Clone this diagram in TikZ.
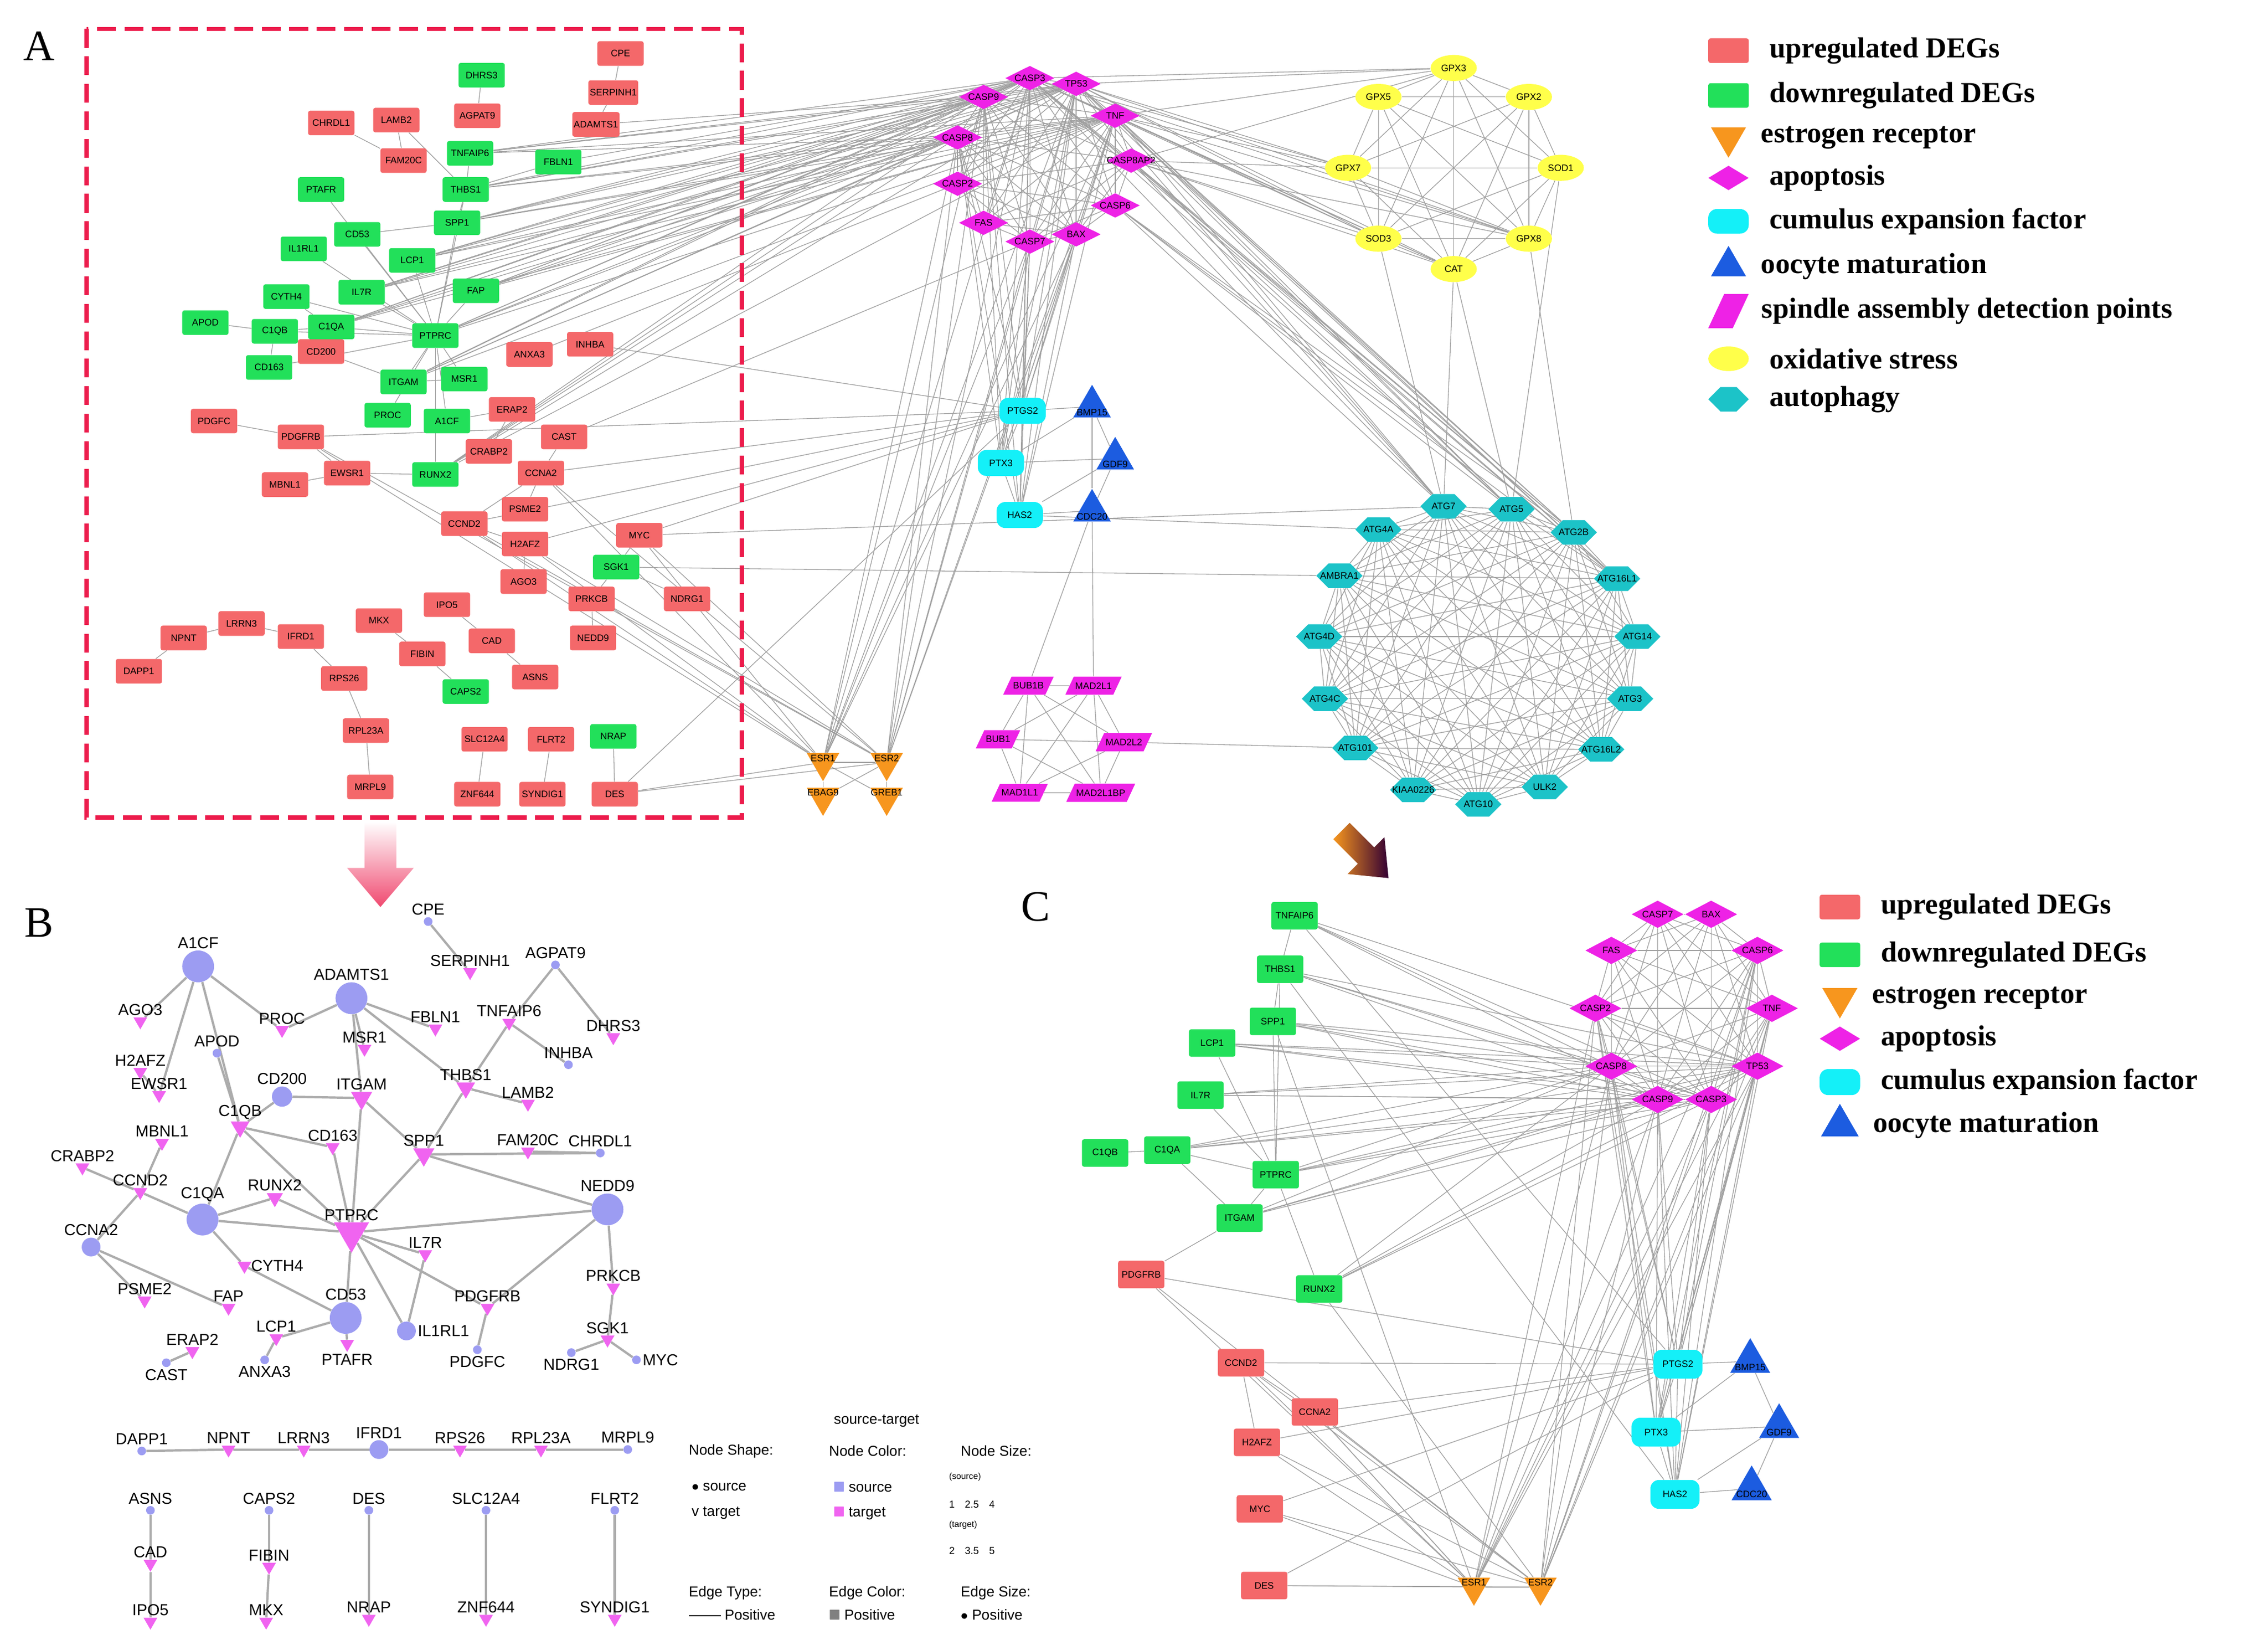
\documentclass[tikz,border=0pt]{standalone}
\usepackage{amssymb}
\usepackage{fontspec}
\setmainfont{Liberation Serif}
\setsansfont{Liberation Sans}
\usetikzlibrary{shapes.geometric, shapes.symbols, backgrounds}

\definecolor{upred}{HTML}{F4686A}
\definecolor{downgreen}{HTML}{22E05A}
\definecolor{apopmag}{HTML}{EE22E6}
\definecolor{cumcyan}{HTML}{14F0F8}
\definecolor{oocblue}{HTML}{1C5CE0}
\definecolor{esrorange}{HTML}{F7961E}
\definecolor{oxyellow}{HTML}{FFFF4A}
\definecolor{autoteal}{HTML}{1CC3C8}
\definecolor{dashred}{HTML}{EC1C4C}
\definecolor{srcblue}{HTML}{9C9CF2}
\definecolor{tgtpink}{HTML}{F064F0}

\tikzset{
  atext/.style={font=\sffamily\fontsize{6.5}{7}\selectfont, inner sep=0pt},
  box/.style={rectangle, rounded corners=1.5pt, minimum width=32pt, minimum height=17pt,
    inner sep=1pt, font=\sffamily\fontsize{6.5}{7}\selectfont},
  up/.style={box, fill=upred},
  down/.style={box, fill=downgreen},
  apop/.style={diamond, fill=apopmag, aspect=2, inner sep=0pt, minimum width=34pt, minimum height=17pt},
  cum/.style={rectangle, rounded corners=6pt, fill=cumcyan, inner sep=0pt, minimum width=32pt, minimum height=18pt},
  ooc/.style={regular polygon, regular polygon sides=3, fill=oocblue, inner sep=0pt, minimum size=30pt},
  esr/.style={regular polygon, regular polygon sides=3, shape border rotate=180, fill=esrorange, inner sep=0pt, minimum size=26pt},
  spin/.style={trapezium, trapezium left angle=65, trapezium right angle=115, fill=apopmag,
    inner xsep=1pt, inner ysep=4pt, font=\sffamily\fontsize{6.5}{7}\selectfont},
  oxid/.style={ellipse, fill=oxyellow, inner sep=0pt, minimum width=32pt, minimum height=18pt},
  auto/.style={signal, signal to=east and west, fill=autoteal, inner sep=0pt, minimum width=32pt, minimum height=17pt},
  aedge/.style={draw=gray!75, line width=0.5pt},
  legtext/.style={font=\bfseries\fontsize{20}{22}\selectfont, inner sep=0pt, xshift=14pt},
  src/.style={circle, fill=srcblue, inner sep=0pt, minimum size=#1},
  tgt/.style={regular polygon, regular polygon sides=3, shape border rotate=180, fill=tgtpink, inner sep=0pt, minimum size=#1},
  blab/.style={font=\sffamily\fontsize{11}{12}\selectfont, inner sep=1pt},
  bedge/.style={draw=gray!65, line width=1.6pt},
  bsmall/.style={font=\sffamily\fontsize{10}{11}\selectfont, inner sep=0pt, anchor=west},
  panel/.style={font=\fontsize{30}{32}\selectfont, inner sep=0pt}
}

\begin{document}
\begin{tikzpicture}[x=1pt, y=-1pt]
\useasboundingbox (0,0) rectangle (1568,1137);

% panel letters
\node[panel] (letA) at (27,32) {A};
\node[panel] (letB) at (27,638) {B};
\node[panel] (letC) at (716,627) {C};

% ---------- panel A ----------
\draw[dashred, line width=3pt, dash pattern=on 13pt off 6pt] (60,20) rectangle (513,565);
\foreach \n/\x/\y in {CPE/429/37, SERPINH1/424/64, ADAMTS1/412/86, CHRDL1/229/85, LAMB2/274/83,
    FAM20C/279/111, AGPAT9/330/80, ANXA3/366/245, INHBA/408/238, CD200/222/243, PDGFC/148/291,
    PDGFRB/208/302, MBNL1/197/335, EWSR1/240/327, ERAP2/354/283, CRABP2/338/312, CAST/390/302,
    CCNA2/374/327, CCND2/321/362, PSME2/363/352, H2AFZ/363/376, MYC/442/370, AGO3/362/402,
    PRKCB/409/414, NDRG1/475/414, NEDD9/410/441, IPO5/309/418, MKX/262/429, CAD/340/443,
    FIBIN/292/452, ASNS/370/468, NPNT/127/441, LRRN3/167/431, IFRD1/208/440, DAPP1/96/464,
    RPS26/238/469, RPL23A/253/505, MRPL9/256/544, SLC12A4/335/511, FLRT2/381/511,
    ZNF644/330/549, SYNDIG1/375/549, DES/425/549}
  \node[up] (\n) at (\x,\y) {\n};
\foreach \n/\x/\y in {DHRS3/333/52, TNFAIP6/325/106, FBLN1/386/112, THBS1/322/131, PTAFR/222/131,
    CD53/247/162, SPP1/316/154, IL1RL1/210/172, LCP1/285/180, IL7R/250/202, FAP/329/201,
    CYTH4/198/205, APOD/142/223, C1QB/190/229, C1QA/229/226, PTPRC/301/232, CD163/186/254,
    ITGAM/279/264, MSR1/321/262, PROC/268/287, A1CF/309/291, RUNX2/301/328, SGK1/426/392,
    CAPS2/322/478, NRAP/424/509}
  \node[down] (\n) at (\x,\y) {\n};
\foreach \n/\x/\y in {CASP3/712/54, TP53/744/58, CASP9/680/67, TNF/771/80, CASP8/662/95,
    CASP8AP2/782/111, CASP2/662/127, CASP6/771/142, FAS/680/154, CASP7/712/167, BAX/744/162}
  \node[apop, label={[atext]center:\n}] (\n) at (\x,\y) {};
\foreach \n/\x/\y in {PTGS2/707/284, PTX3/692/320, HAS2/705/356}
  \node[cum, label={[atext]center:\n}] (\n) at (\x,\y) {};
\foreach \n/\x/\y in {BMP15/755/281, GDF9/771/317, CDC20/755/353}
  \node[ooc, label={[atext, yshift=-4pt]center:\n}] (\n) at (\x,\y) {};
\foreach \n/\x/\y in {BUB1B/711/474, MAD2L1/756/474, BUB1/690/511, MAD2L2/777/513,
    MAD1L1/705/548, MAD2L1BP/761/548}
  \node[spin] (\n) at (\x,\y) {\n};
\foreach \n/\x/\y in {ESR1/569/527, ESR2/613/527, EBAG9/569/551, GREB1/613/551}
  \node[esr, label={[atext, yshift=3pt]center:\n}] (\n) at (\x,\y) {};
\foreach \n/\x/\y in {GPX3/1005/47, GPX5/953/67, GPX2/1057/67, GPX7/932/116, SOD1/1079/116,
    SOD3/953/165, GPX8/1057/165, CAT/1005/186}
  \node[oxid, label={[atext]center:\n}] (\n) at (\x,\y) {};
\foreach \n/\x/\y in {ATG7/998/350, ATG5/1045/352, ATG4A/953/366, ATG2B/1088/368, AMBRA1/926/398,
    ATG16L1/1118/400, ATG4D/912/440, ATG14/1132/440, ATG4C/916/483, ATG3/1127/483,
    ATG101/937/517, ATG16L2/1107/518, KIAA0226/977/546, ULK2/1068/544, ATG10/1022/556}
  \node[auto, label={[atext]center:\n}] (\n) at (\x,\y) {};

\begin{pgfonlayer}{background}
% inside the dashed box
\foreach \a/\b in {PTPRC/C1QA, PTPRC/C1QB, PTPRC/CD53, PTPRC/LCP1, PTPRC/IL7R, PTPRC/FAP,
    PTPRC/ITGAM, PTPRC/SPP1, PTPRC/CYTH4, PTPRC/MSR1, PTPRC/PROC, PTPRC/A1CF, PTPRC/RUNX2,
    PTPRC/CD163, PTPRC/IL1RL1, PTPRC/PTAFR, PTPRC/THBS1, C1QB/APOD, C1QB/C1QA, C1QB/CD163,
    C1QA/CYTH4, CD200/ITGAM, PDGFC/PDGFRB, PDGFRB/EWSR1, EWSR1/MBNL1, EWSR1/RUNX2, CCNA2/CCND2,
    CCNA2/PSME2, CCNA2/CAST, CCND2/H2AFZ, H2AFZ/AGO3, MYC/SGK1, SGK1/PRKCB, SGK1/NDRG1,
    PRKCB/NEDD9, CRABP2/ERAP2, ERAP2/A1CF, THBS1/TNFAIP6, THBS1/SPP1, THBS1/FBLN1, FAM20C/LAMB2,
    LAMB2/THBS1, CHRDL1/FAM20C, DHRS3/AGPAT9, CPE/SERPINH1, SERPINH1/ADAMTS1, NPNT/LRRN3,
    NPNT/DAPP1, LRRN3/IFRD1, IFRD1/RPS26, RPS26/RPL23A, RPL23A/MRPL9, MKX/FIBIN, FIBIN/CAPS2,
    IPO5/CAD, CAD/ASNS, SLC12A4/ZNF644, FLRT2/SYNDIG1, NRAP/DES, ITGAM/MSR1, SPP1/CD53}
  \draw[aedge] (\a) -- (\b);
% long links
\foreach \a in {THBS1, SPP1, PTPRC, ITGAM, FAP, LCP1, IL7R, C1QA, TNFAIP6, RUNX2}
  \foreach \b in {CASP3, TNF, TP53, CASP8, CASP9}
    \draw[aedge] (\a) -- (\b);
\foreach \a in {PDGFRB, CCND2, CCNA2, H2AFZ, MYC, DES}
  \foreach \b in {ESR1, ESR2, PTGS2}
    \draw[aedge] (\a) -- (\b);
\foreach \a/\b in {SGK1/AMBRA1, MYC/ATG7, INHBA/PTGS2, ANXA3/CASP2, HAS2/ATG4A, CAST/CASP7,
    FBLN1/CASP3, ADAMTS1/CASP9, CAT/ATG7, CAT/ATG5, GPX8/ATG2B, SOD1/ATG5, SOD3/ATG7,
    ESR1/EBAG9, ESR2/GREB1, ESR1/GREB1, ESR2/EBAG9, ESR1/ESR2, CDC20/BUB1B, CDC20/MAD2L1,
    MAD2L2/ATG101, PTGS2/BMP15, PTX3/GDF9, HAS2/CDC20, PTGS2/PTX3, PTX3/HAS2, BMP15/GDF9,
    GDF9/CDC20, PTGS2/HAS2, BMP15/CDC20, PTX3/BMP15, HAS2/GDF9}
  \draw[aedge] (\a) -- (\b);
\foreach \a in {CASP3, TP53, TNF, CASP8, CASP9, BAX, CASP7}
  \foreach \b in {ESR1, ESR2, PTGS2, HAS2, PTX3}
    \draw[aedge] (\a) -- (\b);
\foreach \a in {TNF, TP53, CASP3, CASP8AP2}
  \foreach \b in {GPX3, GPX7, SOD3, CAT, GPX8}
    \draw[aedge] (\a) -- (\b);
\foreach \a in {TNF, TP53, CASP3, CASP8AP2, CASP6}
  \foreach \b in {ATG7, ATG5, ATG2B, ATG16L1}
    \draw[aedge] (\a) -- (\b);
% cliques
\foreach \a [count=\i] in {CASP3, TP53, CASP9, TNF, CASP8, CASP8AP2, CASP2, CASP6, FAS, CASP7, BAX}
  \foreach \b [count=\j] in {CASP3, TP53, CASP9, TNF, CASP8, CASP8AP2, CASP2, CASP6, FAS, CASP7, BAX}
    {\ifnum\j>\i \draw[aedge] (\a) -- (\b); \fi}
\foreach \a [count=\i] in {GPX3, GPX5, GPX2, GPX7, SOD1, SOD3, GPX8, CAT}
  \foreach \b [count=\j] in {GPX3, GPX5, GPX2, GPX7, SOD1, SOD3, GPX8, CAT}
    {\ifnum\j>\i \draw[aedge] (\a) -- (\b); \fi}
\foreach \a [count=\i] in {ATG7, ATG5, ATG4A, ATG2B, AMBRA1, ATG16L1, ATG4D, ATG14, ATG4C, ATG3, ATG101, ATG16L2, KIAA0226, ULK2, ATG10}
  \foreach \b [count=\j] in {ATG7, ATG5, ATG4A, ATG2B, AMBRA1, ATG16L1, ATG4D, ATG14, ATG4C, ATG3, ATG101, ATG16L2, KIAA0226, ULK2, ATG10}
    {\ifnum\j>\i \draw[aedge] (\a) -- (\b); \fi}
\foreach \a [count=\i] in {BUB1B, MAD2L1, BUB1, MAD2L2, MAD1L1, MAD2L1BP}
  \foreach \b [count=\j] in {BUB1B, MAD2L1, BUB1, MAD2L2, MAD1L1, MAD2L1BP}
    {\ifnum\j>\i \draw[aedge] (\a) -- (\b); \fi}
\end{pgfonlayer}

% legend A
\foreach \s/\t/\y [count=\k] in {up/upregulated  DEGs/35, down/downregulated DEGs/66,
    esr/estrogen receptor/95, apop/apoptosis/123, cum/cumulus expansion factor/153,
    ooc/oocyte maturation/184, spin/spindle assembly detection points/215,
    oxid/oxidative stress/248, auto/autophagy/276}
  \node[\s, minimum width=28pt, minimum height=17pt, label={[legtext]east:\t}] (legA\k) at (1195,\y) {};

% arrows between panels
\shade[top color=white, bottom color=dashred!80] (252,568) -- (274,568) -- (274,600) -- (286,600)
  -- (263,627) -- (240,600) -- (252,600) -- cycle;
\begin{scope}[shift={(943,590)}, rotate=-45]
  \shade[left color=esrorange, right color=black!60!violet] (-22,-8) -- (2,-8) -- (2,-18) -- (24,0)
    -- (2,18) -- (2,8) -- (-22,8) -- cycle;
\end{scope}

% ---------- panel B ----------
\foreach \n/\x/\y/\s/\p in {A1CF/137/668/22pt/above, ADAMTS1/243/690/22pt/above, CPE/296/637/6pt/above,
    AGPAT9/384/667/6pt/above, INHBA/393/736/6pt/above, APOD/150/728/6pt/above, CD200/195/758/14pt/above,
    CHRDL1/415/797/6pt/above, C1QA/140/843/22pt/above, NEDD9/420/836/22pt/above, CCNA2/63/862/13pt/above,
    CD53/239/911/22pt/above, IL1RL1/281/920/13pt/right, PDGFC/330/933/6pt/below, CAST/115/942/6pt/below,
    ANXA3/183/940/6pt/below, MYC/440/940/6pt/right, NDRG1/395/935/6pt/below,
    DAPP1/98/1003/6pt/above, IFRD1/262/1002/13pt/above, MRPL9/434/1002/6pt/above,
    ASNS/104/1044/6pt/above, CAPS2/186/1044/6pt/above, DES/255/1044/6pt/above,
    SLC12A4/336/1044/6pt/above, FLRT2/425/1044/6pt/above}
  \node[src=\s, label={[blab]\p:\n}] (b\n) at (\x,\y) {};
\foreach \n/\x/\y/\s/\p in {SERPINH1/325/672/11pt/above, TNFAIP6/352/707/11pt/above, DHRS3/424/717/11pt/above,
    FBLN1/301/711/11pt/above, PROC/195/712/11pt/above, MSR1/252/725/11pt/above, AGO3/97/706/11pt/above,
    H2AFZ/97/741/11pt/above, EWSR1/110/757/11pt/above, C1QB/166/779/15pt/above, ITGAM/250/759/17pt/above,
    THBS1/322/752/15pt/above, LAMB2/365/763/11pt/above, MBNL1/112/790/11pt/above, CD163/230/793/11pt/above,
    SPP1/293/798/17pt/above, FAM20C/365/796/11pt/above, CRABP2/57/807/11pt/above, CCND2/97/824/11pt/above,
    RUNX2/190/828/13pt/above, PTPRC/243/852/28pt/above, IL7R/294/867/11pt/above, CYTH4/169/875/11pt/right,
    PSME2/100/899/11pt/above, PRKCB/424/890/11pt/above, FAP/158/904/11pt/above, PDGFRB/337/904/11pt/above,
    LCP1/191/925/11pt/above, SGK1/420/926/11pt/above, ERAP2/133/934/11pt/above, PTAFR/240/929/11pt/below,
    NPNT/158/1002/11pt/above, LRRN3/210/1002/11pt/above, RPS26/318/1002/11pt/above, RPL23A/374/1002/11pt/above,
    CAD/104/1081/11pt/above, IPO5/104/1121/11pt/above, FIBIN/186/1083/11pt/above, MKX/184/1121/11pt/above,
    NRAP/255/1119/11pt/above, ZNF644/336/1119/11pt/above, SYNDIG1/425/1119/11pt/above}
  \node[tgt=\s, label={[blab]\p:\n}] (b\n) at (\x,\y) {};

\begin{pgfonlayer}{background}
\foreach \a/\b in {A1CF/AGO3, A1CF/PROC, A1CF/EWSR1, A1CF/C1QB, ADAMTS1/MSR1, ADAMTS1/ITGAM,
    ADAMTS1/FBLN1, ADAMTS1/THBS1, ADAMTS1/PROC, CPE/SERPINH1, AGPAT9/TNFAIP6, AGPAT9/DHRS3,
    INHBA/TNFAIP6, TNFAIP6/THBS1, APOD/C1QB, CD200/C1QB, CD200/ITGAM, C1QB/PTPRC, ITGAM/PTPRC,
    THBS1/SPP1, LAMB2/THBS1, CHRDL1/SPP1, CHRDL1/FAM20C, ITGAM/SPP1, CD163/PTPRC, C1QA/C1QB,
    C1QA/RUNX2, C1QA/CYTH4, C1QA/PTPRC, C1QA/CCND2, CCNA2/CCND2, CCNA2/PSME2, CCND2/CRABP2,
    CCND2/MBNL1, NEDD9/SPP1, NEDD9/PTPRC, NEDD9/PRKCB, NEDD9/PDGFRB, PDGFRB/PTPRC, PDGFC/PDGFRB,
    IL1RL1/IL7R, IL1RL1/PTPRC, CD53/PTPRC, CD53/LCP1, CD53/PTAFR, CD53/CYTH4, ANXA3/LCP1,
    CAST/ERAP2, CCNA2/FAP, PRKCB/SGK1, NDRG1/SGK1, MYC/SGK1, IL7R/PTPRC, SPP1/PTPRC, RUNX2/PTPRC,
    C1QB/CD163, H2AFZ/EWSR1, DAPP1/NPNT, LRRN3/NPNT, IFRD1/LRRN3, IFRD1/RPS26, MRPL9/RPL23A,
    RPL23A/RPS26, ASNS/CAD, CAD/IPO5, CAPS2/FIBIN, FIBIN/MKX, DES/NRAP, SLC12A4/ZNF644, FLRT2/SYNDIG1}
  \draw[bedge] (b\a) -- (b\b);
\end{pgfonlayer}

% legend B
\node[bsmall, anchor=center] (bkT) at (606,982) {source-target};
\node[bsmall] (bkS) at (476,1003) {Node Shape:};
\node[bsmall] (bkC) at (573,1003) {Node Color:};
\node[bsmall] (bkZ) at (664,1003) {Node Size:};
\node[bsmall] (bkS1) at (478,1028) {$\bullet$ source};
\node[bsmall] (bkS2) at (478,1046) {\textsf{v} target};
\node[bsmall] (bkC1) at (576,1028) {\textcolor{srcblue}{$\blacksquare$} source};
\node[bsmall] (bkC2) at (576,1046) {\textcolor{tgtpink}{$\blacksquare$} target};
\node[bsmall, font=\sffamily\fontsize{6}{7}\selectfont] (bkZ1) at (656,1021) {(source)};
\node[bsmall, font=\sffamily\fontsize{7}{8}\selectfont] (bkZ2) at (656,1040) {1\quad 2.5\quad 4};
\node[bsmall, font=\sffamily\fontsize{6}{7}\selectfont] (bkZ3) at (656,1054) {(target)};
\node[bsmall, font=\sffamily\fontsize{7}{8}\selectfont] (bkZ4) at (656,1072) {2\quad 3.5\quad 5};
\node[bsmall] (bkE) at (476,1101) {Edge Type:};
\node[bsmall] (bkE1) at (476,1116) {\rule[2.5pt]{22pt}{0.4pt} Positive};
\node[bsmall] (bkF) at (573,1101) {Edge Color:};
\node[bsmall] (bkF1) at (573,1116) {\textcolor{gray}{$\blacksquare$} Positive};
\node[bsmall] (bkG) at (664,1101) {Edge Size:};
\node[bsmall] (bkG1) at (664,1116) {$\bullet$ Positive};

% ---------- panel C ----------
\foreach \n/\x/\y in {TNFAIP6/895/633, THBS1/885/670, SPP1/880/706, LCP1/838/721, IL7R/830/757,
    C1QB/764/797, C1QA/807/795, PTPRC/882/812, ITGAM/857/842, RUNX2/912/891}
  \node[down, minimum height=19pt] (c\n) at (\x,\y) {\n};
\foreach \n/\x/\y in {PDGFRB/789/881, CCND2/858/942, CCNA2/909/976, H2AFZ/869/997, MYC/871/1043, DES/874/1096}
  \node[up, minimum height=19pt] (c\n) at (\x,\y) {\n};
\foreach \n/\x/\y in {CASP7/1146/632, BAX/1183/632, FAS/1114/657, CASP6/1215/657, CASP2/1103/697,
    TNF/1225/697, CASP8/1114/737, TP53/1215/737, CASP9/1146/760, CASP3/1183/760}
  \node[apop, minimum width=36pt, minimum height=19pt, label={[atext]center:\n}] (c\n) at (\x,\y) {};
\foreach \n/\x/\y in {PTGS2/1160/943, PTX3/1145/990, HAS2/1158/1033}
  \node[cum, minimum width=34pt, minimum height=20pt, label={[atext]center:\n}] (c\n) at (\x,\y) {};
\foreach \n/\x/\y in {BMP15/1210/941, GDF9/1230/986, CDC20/1211/1029}
  \node[ooc, minimum size=32pt, label={[atext, yshift=-4pt]center:\n}] (c\n) at (\x,\y) {};
\foreach \n/\x/\y in {ESR1/1019/1097, ESR2/1065/1097}
  \node[esr, label={[atext, yshift=3pt]center:\n}] (c\n) at (\x,\y) {};

\begin{pgfonlayer}{background}
\foreach \a in {TNFAIP6, THBS1, SPP1, LCP1, IL7R, C1QA, PTPRC, ITGAM, RUNX2}
  \foreach \b in {CASP3, CASP9, TP53, CASP8}
    \draw[aedge] (c\a) -- (c\b);
\foreach \a in {CCND2, CCNA2, H2AFZ, MYC, DES, PDGFRB}
  \foreach \b in {ESR1, ESR2, PTGS2}
    \draw[aedge] (c\a) -- (c\b);
\foreach \a in {CASP3, TP53, TNF, CASP8, CASP9, CASP6, CASP2}
  \foreach \b in {ESR1, ESR2, PTGS2, HAS2, PTX3}
    \draw[aedge] (c\a) -- (c\b);
\foreach \a [count=\i] in {CASP7, BAX, FAS, CASP6, CASP2, TNF, CASP8, TP53, CASP9, CASP3}
  \foreach \b [count=\j] in {CASP7, BAX, FAS, CASP6, CASP2, TNF, CASP8, TP53, CASP9, CASP3}
    {\ifnum\j>\i \draw[aedge] (c\a) -- (c\b); \fi}
\foreach \a/\b in {C1QB/C1QA, C1QA/PTPRC, PTPRC/ITGAM, ITGAM/PDGFRB, PTPRC/SPP1, PTPRC/IL7R,
    PTPRC/LCP1, PTPRC/THBS1, THBS1/TNFAIP6, THBS1/SPP1, ITGAM/C1QA, PTPRC/RUNX2, CCND2/H2AFZ,
    CCND2/CCNA2, CCNA2/ESR1, ESR1/ESR2, PTGS2/BMP15, PTGS2/PTX3, PTX3/HAS2, PTX3/GDF9,
    HAS2/CDC20, BMP15/GDF9, GDF9/CDC20, PTGS2/HAS2, PTX3/BMP15, HAS2/GDF9, TNFAIP6/PTGS2,
    THBS1/HAS2, SPP1/ESR1, RUNX2/ESR2}
  \draw[aedge] (c\a) -- (c\b);
\end{pgfonlayer}

% legend C
\foreach \s/\t/\y [count=\k] in {up/upregulated  DEGs/627, down/downregulated DEGs/660,
    esr/estrogen receptor/690, apop/apoptosis/718, cum/cumulus expansion factor/748,
    ooc/oocyte maturation/778}
  \node[\s, minimum width=28pt, label={[legtext]east:\t}] (legC\k) at (1272,\y) {};
\end{tikzpicture}
\end{document}
